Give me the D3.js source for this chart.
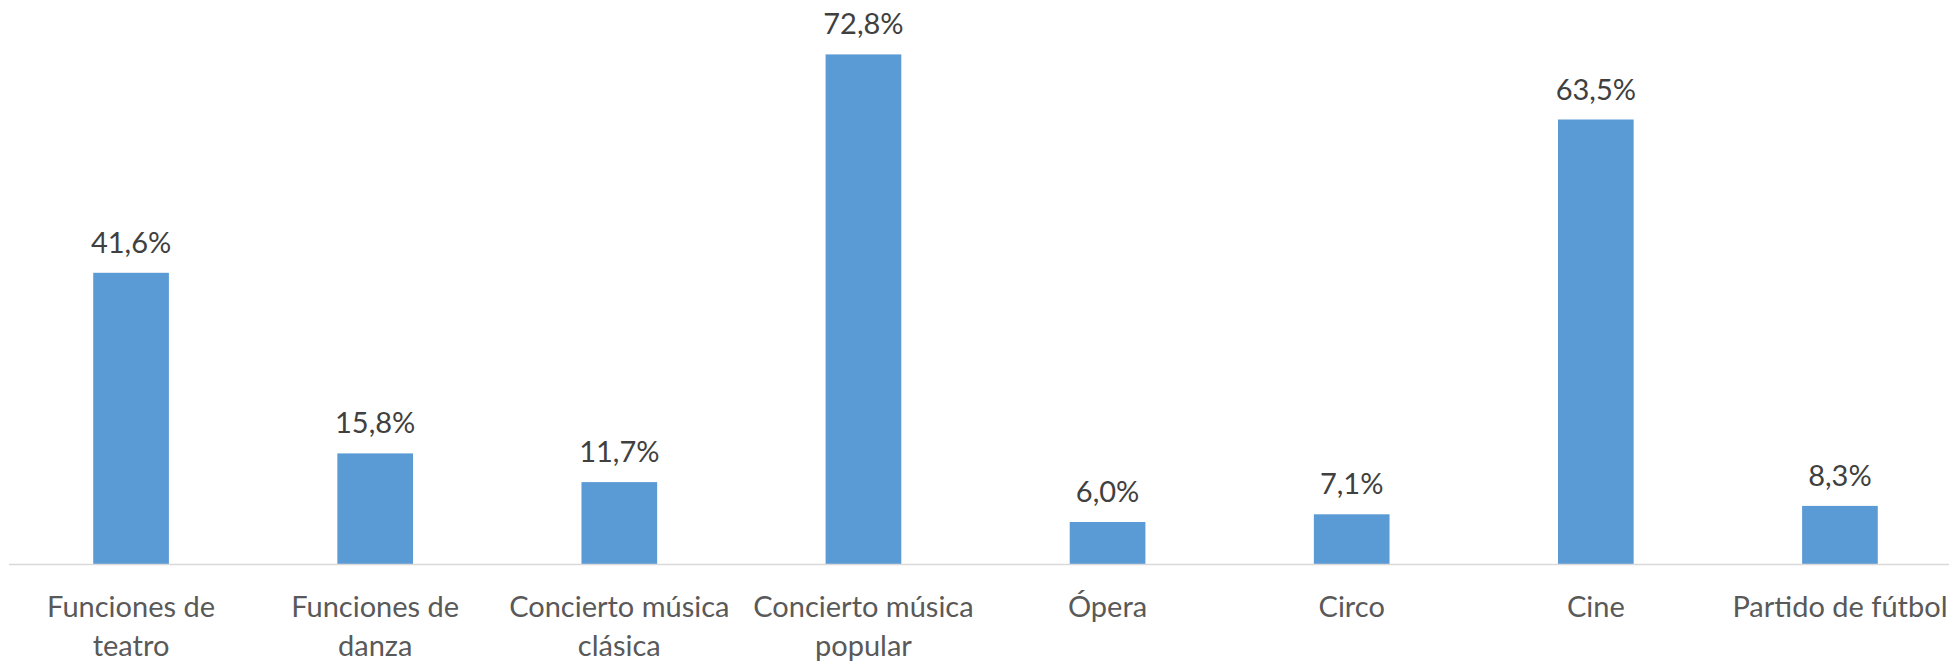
<!DOCTYPE html>
<html><head><meta charset="utf-8">
<script src="https://cdn.jsdelivr.net/npm/d3@7"></script>
<style>html,body{margin:0;padding:0;background:#fff;overflow:hidden}</style>
</head><body>
<svg id="c" width="1949" height="661"></svg>
<script>
const categories = ["Funciones de teatro","Funciones de danza","Concierto música clásica","Concierto música popular","Ópera","Circo","Cine","Partido de fútbol"];
const values = [41.6, 15.8, 11.7, 72.8, 6.0, 7.1, 63.5, 8.3];
const valueLabels = ["41,6%","15,8%","11,7%","72,8%","6,0%","7,1%","63,5%","8,3%"];
const tickLines = [["Funciones de","teatro"],["Funciones de","danza"],["Concierto música","clásica"],["Concierto música","popular"],["Ópera"],["Circo"],["Cine"],["Partido de fútbol"]];

const svg = d3.select("#c");
const font = "Lato, 'Open Sans', sans-serif";
const x = d3.scaleBand().domain(categories).range([9, 1962]).paddingInner(0.69).paddingOuter(0.345);
const y = d3.scaleLinear().domain([0, 80]).range([564, 4]);

svg.append("g").selectAll("rect").data(categories).join("rect")
  .attr("x", d => x(d)).attr("width", x.bandwidth())
  .attr("y", (d,i) => y(values[i])).attr("height", (d,i) => y(0) - y(values[i]))
  .attr("fill", "#5B9BD5");

svg.append("line").attr("x1", 9).attr("x2", 1949).attr("y1", y(0)+0.5).attr("y2", y(0)+0.5)
  .attr("stroke", "#d9d9d9").attr("stroke-width", 1.5);

svg.append("g").selectAll("text").data(categories).join("text")
  .attr("x", d => x(d) + x.bandwidth()/2).attr("y", (d,i) => y(values[i]) - 20)
  .attr("text-anchor", "middle").attr("font-family", font).attr("font-size", 29)
  .attr("fill", "#404040").text((d,i) => valueLabels[i]);

const tg = svg.append("g").selectAll("text").data(categories).join("text")
  .attr("text-anchor", "middle").attr("font-family", font).attr("font-size", 29)
  .attr("fill", "#595959");
tg.each(function(d,i){
  const t = d3.select(this);
  tickLines[i].forEach((ln, j) => {
    t.append("tspan").attr("x", x(d) + x.bandwidth()/2).attr("y", 617 + j*38.5).text(ln);
  });
});
</script>
</body></html>
